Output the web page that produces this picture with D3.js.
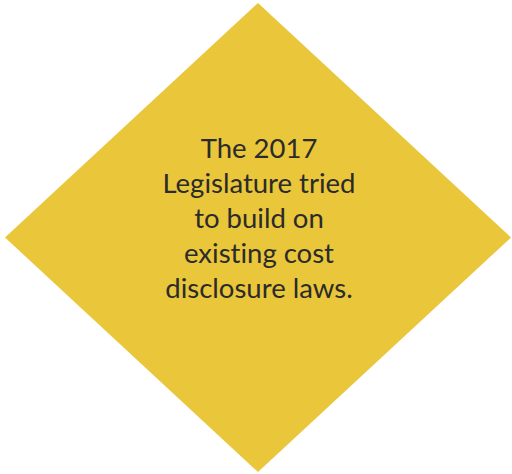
<!DOCTYPE html>
<html lang="en">
  <head>
    <meta charset="UTF-8" />
    <title>Diamond</title>
    <script src="https://d3js.org/d3.v7.min.js"></script>
    <style>
      * { margin: 0; padding: 0; box-sizing: border-box; }
      body { background: #ffffff; width: 512px; height: 474px; overflow: hidden; }
    </style>
  </head>
  <body>
    <svg id="chart"></svg>
    <script>
      // the diamond corners, in unit space (x from -1 to 1, y from -1 to 1)
      const cornerX = [0, 1, 0, -1];
      const cornerY = [-1, 0, 1, 0];
      // the text lines inside
      const lines = [
        "The 2017",
        "Legislature tried",
        "to build on",
        "existing cost",
        "disclosure laws."
      ];

      const width = 512, height = 474;
      const svg = d3.select("#chart").attr("width", width).attr("height", height);

      const x = d3.scaleLinear().domain([-1, 1]).range([5, 511]);
      const y = d3.scaleLinear().domain([-1, 1]).range([3, 472]);

      const pts = cornerX.map((cx, i) => [x(cx), y(cornerY[i])]);
      svg.append("polygon")
        .attr("points", pts.map(p => p.join(",")).join(" "))
        .attr("fill", "#e9c63a");

      // lignes de texte
      const lineY = d3.scaleLinear().domain([0, lines.length - 1]).range([158, 298]);
      svg.selectAll(".label")
        .data(lines)
        .enter()
        .append("text")
        .attr("class", "label")
        .attr("x", 259)
        .attr("y", (d, i) => lineY(i))
        .attr("text-anchor", "middle")
        .style("font-family", "Lato, 'Noto Sans', sans-serif")
        .style("font-size", "27.5px")
        .style("font-variant-ligatures", "none")
        .style("fill", "#2b2b2b")
        .text(d => d);
    </script>
  </body>
</html>
